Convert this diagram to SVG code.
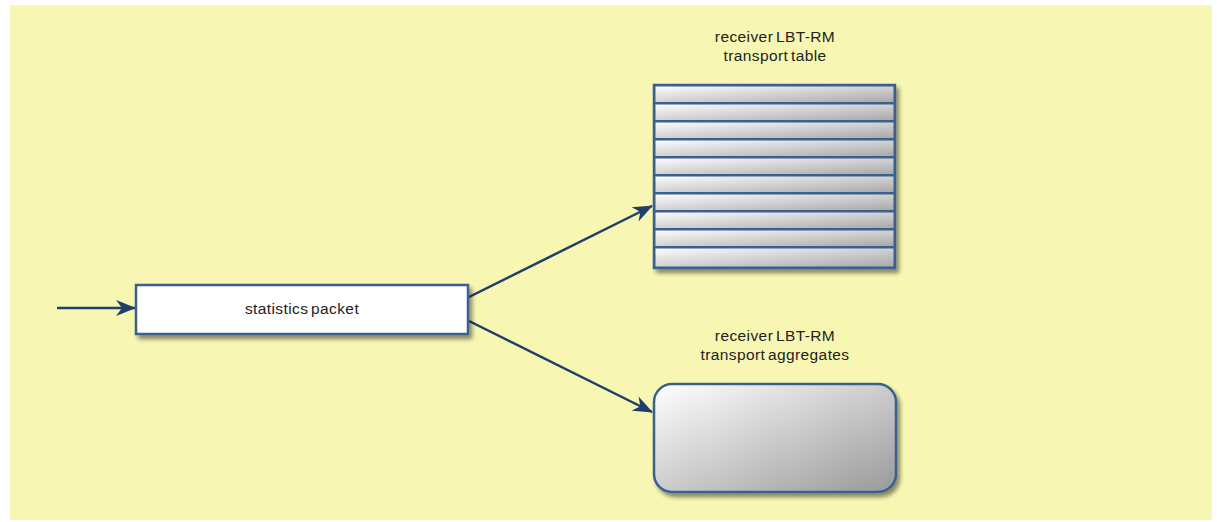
<svg xmlns="http://www.w3.org/2000/svg" width="1217" height="522" viewBox="0 0 1217 522">
<defs>
<linearGradient id="gRow" x1="0" y1="0" x2="1" y2="1">
<stop offset="0" stop-color="#fbfbfb"/><stop offset="1" stop-color="#a9a9a9"/>
</linearGradient>
<linearGradient id="gAgg" x1="0" y1="0" x2="1" y2="1">
<stop offset="0" stop-color="#ffffff"/><stop offset="1" stop-color="#999999"/>
</linearGradient>
<filter id="sh" x="-10%" y="-10%" width="130%" height="140%">
<feGaussianBlur in="SourceAlpha" stdDeviation="2"/>
<feOffset dx="3" dy="4" result="b"/>
<feComponentTransfer><feFuncA type="linear" slope="0.45"/></feComponentTransfer>
<feMerge><feMergeNode/><feMergeNode in="SourceGraphic"/></feMerge>
</filter>
<marker id="ah" viewBox="0 0 20 16" refX="19" refY="8" markerWidth="20" markerHeight="16" markerUnits="userSpaceOnUse" orient="auto">
<path d="M0,0 L20,8 L0,16 L6,8 Z" fill="#1f3f6b"/>
</marker>
</defs>
<style>
.lbl{font-family:"Liberation Sans",Arial,sans-serif;font-size:15.5px;letter-spacing:0.4px;word-spacing:-2px;fill:#222;text-anchor:middle}
.box{stroke:#3a5f8f;stroke-width:2.5}
.con{stroke:#1f3f6b;stroke-width:2.5;fill:none}
</style>
<rect x="10" y="5" width="1202" height="515" fill="#f7f7b3"/>
<g id="connectors">
<line class="con" x1="57" y1="308" x2="135" y2="308" marker-end="url(#ah)"/>
<line class="con" x1="469" y1="297" x2="652" y2="206" marker-end="url(#ah)"/>
<line class="con" x1="469" y1="321" x2="652" y2="412" marker-end="url(#ah)"/>
</g>
<g id="statistics-packet">
<rect class="box" x="136" y="285" width="332" height="49" fill="#ffffff" filter="url(#sh)"/>
<text class="lbl" x="302" y="314">statistics packet</text>
</g>
<g id="transport-table">
<text class="lbl" x="775" y="42">receiver LBT-RM</text>
<text class="lbl" x="775" y="61">transport table</text>
<g filter="url(#sh)">
<rect class="box" x="654" y="85" width="241" height="183" fill="#3a5f8f"/>
<rect x="655.5" y="86.5" width="238" height="15.5" fill="url(#gRow)"/>
<rect x="655.5" y="104.5" width="238" height="15.5" fill="url(#gRow)"/>
<rect x="655.5" y="122.5" width="238" height="15.5" fill="url(#gRow)"/>
<rect x="655.5" y="140.5" width="238" height="15.5" fill="url(#gRow)"/>
<rect x="655.5" y="158.5" width="238" height="15.5" fill="url(#gRow)"/>
<rect x="655.5" y="176.5" width="238" height="15.5" fill="url(#gRow)"/>
<rect x="655.5" y="194.5" width="238" height="15.5" fill="url(#gRow)"/>
<rect x="655.5" y="212.5" width="238" height="15.5" fill="url(#gRow)"/>
<rect x="655.5" y="230.5" width="238" height="15.5" fill="url(#gRow)"/>
<rect x="655.5" y="248.5" width="238" height="18" fill="url(#gRow)"/>
</g>
</g>
<g id="transport-aggregates">
<text class="lbl" x="775" y="341">receiver LBT-RM</text>
<text class="lbl" x="775" y="360">transport aggregates</text>
<rect class="box" x="654" y="384" width="242" height="108" rx="18" fill="url(#gAgg)" filter="url(#sh)"/>
</g>
</svg>
